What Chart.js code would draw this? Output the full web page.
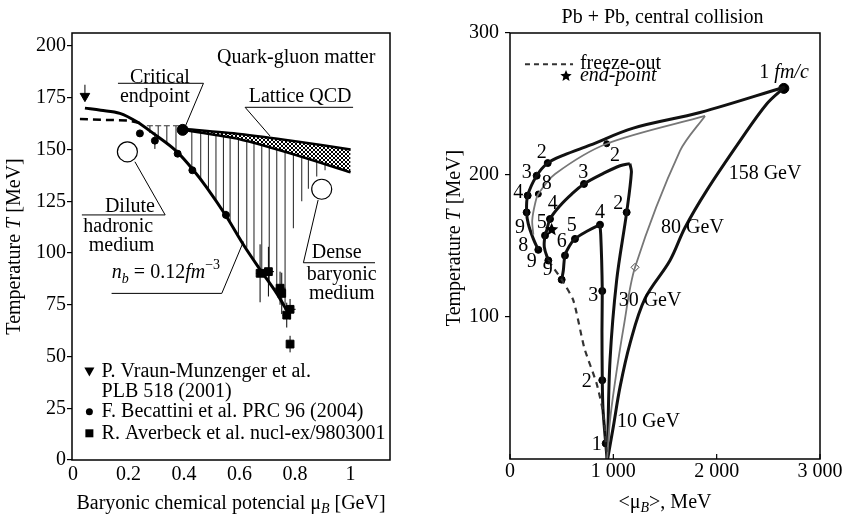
<!DOCTYPE html>
<html><head><meta charset="utf-8">
<script src="https://cdn.jsdelivr.net/npm/chart.js@4/dist/chart.umd.min.js"></script>
<style>
html,body{margin:0;padding:0;background:#fff;width:843px;height:517px;overflow:hidden}
#l{position:absolute;left:0;top:0}
#r{position:absolute;left:430px;top:0}
</style></head><body>
<canvas id="l" width="420" height="517"></canvas>
<canvas id="r" width="413" height="517"></canvas>
<script>
// ================= LEFT PANEL DATA =================
const xTicksL = [0, 0.2, 0.4, 0.6, 0.8, 1];
const xTickLabelsL = ['0', '0.2', '0.4', '0.6', '0.8', '1'];
const yTicksL = [0, 25, 50, 75, 100, 125, 150, 175, 200];
const yTickLabelsL = ['0', '25', '50', '75', '100', '125', '150', '175', '200'];
// freeze-out fit n_b = 0.12 fm^-3
const fitMu = [0.043, 0.1, 0.169, 0.23, 0.289, 0.374, 0.434, 0.48, 0.551, 0.614, 0.674, 0.734, 0.78];
const fitT  = [170, 169, 167.5, 163.4, 157.8, 149, 140, 132, 118, 104, 92, 80.5, 70];
// dashed crossover line
const dashMu = [0.025, 0.2, 0.25];
const dashT  = [164.7, 164, 162.5];
// lattice QCD band
const latticeMu = [0.395, 0.6, 0.8, 1.0];
const latticeUpperT = [160, 157.5, 154, 150];
const latticeLowerT = [159.5, 155, 147.5, 139];
// critical endpoint
const endpointMu = [0.395];
const endpointT = [159.5];
// vertical hatching of the mixed region
const hatchMu = [0.277, 0.307, 0.338, 0.371, 0.428, 0.46, 0.488, 0.515, 0.542, 0.566, 0.596, 0.626, 0.652, 0.68, 0.707, 0.734, 0.764, 0.794, 0.824, 0.848, 0.878, 0.908];
const hatchTop = [161.5, 161.5, 161.5, 161.5, 158.8, 158, 157.5, 157, 156.3, 155.7, 155, 154, 153, 152, 151, 150, 149, 147.7, 146.5, 145.5, 144.3, 143];
const hatchBottom = [158, 155, 152.5, 150, 140.5, 135, 131, 126, 120.5, 115.5, 109, 102.5, 97, 91, 86, 80.5, 75, 112, 125, 131, 137, 140];
// P. Braun-Munzinger (triangle)
const braunMu = [0.043];
const braunT = [175.8];
const braunErrUp = [5.5];
// F. Becattini (circles)
const becMu = [0.241, 0.295, 0.377, 0.43, 0.551];
const becT = [157.8, 154.3, 148, 140, 118.4];
const becErr = [0, 4, 0, 0, 2];
// R. Averbeck (squares)
const avMu = [0.674, 0.704, 0.746, 0.752, 0.77, 0.782, 0.782];
const avT = [90.2, 91, 83, 80.5, 70, 72.8, 56];
const avErrT = [14, 12, 8, 10, 6, 5, 4];
const avErrMu = [0.015, 0.02, 0.02, 0.015, 0.015, 0.02, 0.01];

// ================= RIGHT PANEL DATA =================
const xTicksR = [0, 1000, 2000, 3000];
const xTickLabelsR = ['0', '1 000', '2 000', '3 000'];
const yTicksR = [100, 200, 300];
const yTickLabelsR = ['100', '200', '300'];
// 158 GeV
const rise158Mu = [945, 1000, 1065, 1161, 1306, 1548, 1694, 1903, 2226, 2484, 2660];
const rise158T  = [0, 22.8, 50.8, 81.3, 112.9, 139.8, 163, 189, 224, 250, 262];
const ret158Mu = [2660, 1839, 1193, 774, 520, 365, 258, 171, 161, 177, 226, 274];
const ret158T  = [262, 244, 233, 221, 214, 208.4, 199.5, 185.5, 173.7, 165.6, 155, 147.3];
const dots158Mu = [365, 258, 171, 161, 274];
const dots158T  = [208.4, 199.5, 185.5, 173.7, 147.3];
const apex158Mu = [2650];
const apex158T = [261];
// 80 GeV
const rise80Mu = [940, 965, 1010, 1100, 1210, 1645, 1887];
const rise80T  = [0, 25, 51, 93, 135, 217, 241.6];
const ret80Mu = [1887, 936, 436, 274, 242, 215, 226];
const ret80T  = [241.6, 222, 200.7, 186.6, 179.6, 168, 158];
const dots80Mu = [936, 274];
const dots80T  = [222, 186.6];
const mark80Mu = [1210];
const mark80T = [135];
// 30 GeV
const rise30Mu = [940, 945, 968, 1032, 1129, 1175, 1160];
const rise30T  = [0, 11, 69.6, 125.8, 173.7, 202, 208];
const ret30Mu = [1160, 1065, 900, 716, 597, 484, 387, 355, 339, 332, 371];
const ret30T  = [208, 206.5, 201, 193.7, 186.6, 178.4, 169, 160.9, 157.4, 149.2, 139.8];
const dots30Mu = [1129, 716, 387, 339, 371];
const dots30T  = [173.7, 193.7, 169, 157.4, 139.8];
// 10 GeV
const rise10Mu = [940, 926, 900, 893, 890, 893, 887, 878, 871];
const rise10T  = [0, 11, 35, 55.5, 90, 118.3, 140, 158, 165];
const ret10Mu = [871, 758, 629, 575, 532, 516, 500];
const ret10T  = [165, 160.9, 155, 150, 143.3, 132.8, 126.3];
const dots10Mu = [871, 629, 532, 500, 893, 893, 926];
const dots10T  = [165, 155, 143.3, 126.3, 118.3, 55.5, 11];
// freeze-out (dashed)
const freezeMu = [371, 500, 613, 720, 839, 903, 935];
const freezeT  = [139.8, 126.3, 111.7, 78, 53, 32, 5];
// end-point star
const starMu = [403];
const starT = [161.5];
// time labels (fm/c)
const timeLabelText = ['2', '3', '4', '9', '8', '9', '8', '4', '5', '9', '3', '2', '2', '4', '5', '6', '3', '2', '1'];
const timeLabelMu = [307, 161, 80, 97, 129, 210, 355, 413, 307, 365, 709, 1016, 1048, 871, 597, 500, 806, 742, 839];
const timeLabelT  = [216, 201.8, 187.8, 163.2, 150.4, 138.6, 193.7, 179.6, 166.7, 133, 201.8, 213.5, 179.6, 173.7, 164.4, 152.7, 115.2, 54.4, 9.9];

// ================= helpers =================
const serif = '"Liberation Serif", "Times New Roman", serif';
const FS = 20, SS = 14;
Chart.defaults.font.family = serif;
Chart.defaults.font.size = FS;
Chart.defaults.color = '#000';

const pts = (xs, ys) => xs.map((x, i) => ({x: x, y: ys[i]}));

function rich(ctx, parts, x, y, align, rot) {
  ctx.save();
  ctx.translate(x, y);
  if (rot) ctx.rotate(rot);
  ctx.textBaseline = 'middle';
  ctx.textAlign = 'left';
  ctx.fillStyle = '#000';
  const f = p => (p.i ? 'italic ' : '') + (p.s ? SS : FS) + 'px ' + serif;
  let tot = 0;
  const ws = parts.map(p => { ctx.font = f(p); const w = ctx.measureText(p.t).width; tot += w; return w; });
  let cx = align === 'center' ? -tot / 2 : (align === 'right' ? -tot : 0);
  parts.forEach((p, k) => { ctx.font = f(p); ctx.fillText(p.t, cx, p.dy || 0); cx += ws[k]; });
  ctx.restore();
}
function txt(ctx, s, x, y, align, italic) { rich(ctx, [{t: s, i: italic}], x, y, align || 'center'); }

function fixedTicks(vals, labels) {
  return {
    afterBuildTicks: s => { s.ticks = vals.map(v => ({value: v})); },
    callback: v => { const k = vals.indexOf(v); return k >= 0 ? labels[k] : ''; }
  };
}
function poly(ctx, P, arr, w) {
  ctx.beginPath();
  arr.forEach((p, i) => { const q = P(p[0], p[1]); if (i) ctx.lineTo(q[0], q[1]); else ctx.moveTo(q[0], q[1]); });
  ctx.lineWidth = w || 1; ctx.strokeStyle = '#000'; ctx.stroke();
}
function openCircle(ctx, q, r) {
  ctx.beginPath(); ctx.arc(q[0], q[1], r, 0, Math.PI * 2);
  ctx.fillStyle = '#fff'; ctx.fill(); ctx.lineWidth = 1.2; ctx.strokeStyle = '#000'; ctx.stroke();
}
function star(ctx, x, y, r) {
  ctx.beginPath();
  for (let k = 0; k < 10; k++) {
    const a = -Math.PI / 2 + k * Math.PI / 5, rr = k % 2 ? r * 0.45 : r;
    const px = x + rr * Math.cos(a), py = y + rr * Math.sin(a);
    if (k) ctx.lineTo(px, py); else ctx.moveTo(px, py);
  }
  ctx.closePath(); ctx.fillStyle = '#000'; ctx.fill();
}
function makePattern() {
  const c = document.createElement('canvas'); c.width = 4; c.height = 4;
  const g = c.getContext('2d');
  g.fillStyle = '#fff'; g.fillRect(0, 0, 4, 4);
  g.strokeStyle = '#000'; g.lineWidth = 1;
  g.beginPath(); g.moveTo(0, 0); g.lineTo(4, 4); g.moveTo(4, 0); g.lineTo(0, 4); g.stroke();
  return g.createPattern(c, 'repeat');
}

// ================= LEFT CHART =================
const leftPlugin = {
  id: 'leftDeco',
  beforeDatasetsDraw(chart) {
    const ctx = chart.ctx, sx = chart.scales.x, sy = chart.scales.y;
    ctx.save();
    ctx.strokeStyle = '#333'; ctx.lineWidth = 1.1;
    hatchMu.forEach((m, i) => {
      const x = sx.getPixelForValue(m);
      ctx.beginPath();
      ctx.moveTo(x, sy.getPixelForValue(hatchTop[i]));
      ctx.lineTo(x, sy.getPixelForValue(hatchBottom[i]));
      if (hatchTop[i] > 161) {
        const yt = sy.getPixelForValue(hatchTop[i]);
        ctx.moveTo(x - 3, yt); ctx.lineTo(x + 3, yt);
      }
      ctx.stroke();
    });
    ctx.restore();
  },
  afterDatasetsDraw(chart) {
    const ctx = chart.ctx, sx = chart.scales.x, sy = chart.scales.y, ca = chart.chartArea;
    const P = (x, y) => [sx.getPixelForValue(x), sy.getPixelForValue(y)];
    ctx.save();
    // error bars
    ctx.strokeStyle = '#000'; ctx.lineWidth = 1;
    avMu.forEach((m, i) => {
      const c = P(m, avT[i]), a = P(m, avT[i] + avErrT[i]), b = P(m, avT[i] - avErrT[i]);
      const l = P(m - avErrMu[i], avT[i]), r = P(m + avErrMu[i], avT[i]);
      ctx.beginPath(); ctx.moveTo(a[0], a[1]); ctx.lineTo(b[0], b[1]);
      ctx.moveTo(l[0], c[1]); ctx.lineTo(r[0], c[1]); ctx.stroke();
    });
    becMu.forEach((m, i) => {
      if (!becErr[i]) return;
      const a = P(m, becT[i] + becErr[i]), b = P(m, becT[i] - becErr[i]);
      ctx.beginPath(); ctx.moveTo(a[0], a[1]); ctx.lineTo(b[0], b[1]); ctx.stroke();
    });
    braunMu.forEach((m, i) => {
      const a = P(m, braunT[i]), b = P(m, braunT[i] + braunErrUp[i]);
      ctx.beginPath(); ctx.moveTo(a[0], a[1]); ctx.lineTo(b[0], b[1]); ctx.stroke();
    });
    // leader lines / underlines
    poly(ctx, P, [[0.162, 182], [0.47, 182], [0.404, 161]], 1);
    poly(ctx, P, [[1.009, 170.4], [0.62, 170.4], [0.71, 156.5]], 1);
    poly(ctx, P, [[0.032, 118.4], [0.332, 118.4], [0.223, 144.1]], 1);
    poly(ctx, P, [[1.088, 95.3], [0.83, 95.3], [0.883, 125.6]], 1);
    poly(ctx, P, [[0.139, 80.5], [0.536, 80.5], [0.614, 105.5]], 1);
    openCircle(ctx, P(0.196, 148.9), 10);
    openCircle(ctx, P(0.896, 130.8), 10);
    // texts
    let q;
    q = P(0.804, 194.2); txt(ctx, 'Quark-gluon matter', q[0], q[1]);
    q = P(0.313, 184.9); txt(ctx, 'Critical', q[0], q[1]);
    q = P(0.295, 175.5); txt(ctx, 'endpoint', q[0], q[1]);
    q = P(0.818, 175.5); txt(ctx, 'Lattice QCD', q[0], q[1]);
    q = P(0.205, 122.4); txt(ctx, 'Dilute', q[0], q[1]);
    q = P(0.163, 112.7); txt(ctx, 'hadronic', q[0], q[1]);
    q = P(0.175, 103.5); txt(ctx, 'medium', q[0], q[1]);
    q = P(0.95, 99.9); txt(ctx, 'Dense', q[0], q[1]);
    q = P(0.968, 89.7); txt(ctx, 'baryonic', q[0], q[1]);
    q = P(0.968, 80.5); txt(ctx, 'medium', q[0], q[1]);
    q = P(0.14, 90.3);
    rich(ctx, [{t: 'n', i: 1}, {t: 'b', i: 1, s: 1, dy: 6}, {t: ' = 0.12'}, {t: 'fm', i: 1}, {t: '\u22123', s: 1, dy: -8}], q[0], q[1], 'left');
    // legend
    const lx = 0.059, tx = 0.103;
    q = P(lx, 42.7);
    ctx.beginPath(); ctx.moveTo(q[0] - 5, q[1] - 4); ctx.lineTo(q[0] + 5, q[1] - 4); ctx.lineTo(q[0], q[1] + 5); ctx.closePath(); ctx.fillStyle = '#000'; ctx.fill();
    q = P(tx, 42.7); txt(ctx, 'P. Vraun-Munzenger et al.', q[0], q[1], 'left');
    q = P(tx, 33); txt(ctx, 'PLB 518 (2001)', q[0], q[1], 'left');
    q = P(lx, 23.3); ctx.beginPath(); ctx.arc(q[0], q[1], 3.5, 0, Math.PI * 2); ctx.fill();
    q = P(tx, 23.3); txt(ctx, 'F. Becattini et al. PRC 96 (2004)', q[0], q[1], 'left');
    q = P(lx, 12.9); ctx.fillRect(q[0] - 4, q[1] - 4, 8, 8);
    q = P(tx, 12.9); txt(ctx, 'R. Averbeck et al. nucl-ex/9803001', q[0], q[1], 'left');
    // frame
    ctx.lineWidth = 1.5; ctx.strokeStyle = '#000';
    ctx.strokeRect(ca.left, ca.top, ca.right - ca.left, ca.bottom - ca.top);
    // axis titles
    rich(ctx, [{t: 'Temperature '}, {t: 'T', i: 1}, {t: ' [MeV]'}], 15, (ca.top + ca.bottom) / 2, 'center', -Math.PI / 2);
    rich(ctx, [{t: 'Baryonic chemical potencial \u03bc'}, {t: 'B', i: 1, s: 1, dy: 5}, {t: ' [GeV]'}], (ca.left + ca.right) / 2, 504, 'center');
    ctx.restore();
  }
};

const tl = fixedTicks(xTicksL, xTickLabelsL), tly = fixedTicks(yTicksL, yTickLabelsL);
new Chart(document.getElementById('l'), {
  type: 'line',
  data: {
    datasets: [
      {data: pts(latticeMu, latticeUpperT), borderColor: '#000', borderWidth: 2.5, pointRadius: 0, tension: 0.2, fill: false},
      {data: pts(latticeMu, latticeLowerT), borderColor: '#000', borderWidth: 2.5, pointRadius: 0, tension: 0.2, fill: '-1', backgroundColor: makePattern()},
      {data: pts(dashMu, dashT), borderColor: '#000', borderWidth: 2.5, borderDash: [8, 5], pointRadius: 0, fill: false},
      {data: pts(fitMu, fitT), borderColor: '#000', borderWidth: 3, pointRadius: 0, cubicInterpolationMode: 'monotone', fill: false},
      {data: pts(becMu, becT), showLine: false, pointStyle: 'circle', pointRadius: 3.5, backgroundColor: '#000', borderColor: '#000'},
      {data: pts(braunMu, braunT), showLine: false, pointStyle: 'triangle', pointRotation: 180, pointRadius: 5.5, backgroundColor: '#000', borderColor: '#000'},
      {data: pts(avMu, avT), showLine: false, pointStyle: 'rect', pointRadius: 5.5, backgroundColor: '#000', borderColor: '#000'},
      {data: pts(endpointMu, endpointT), showLine: false, pointStyle: 'circle', pointRadius: 5.5, backgroundColor: '#000', borderColor: '#000'}
    ]
  },
  options: {
    responsive: false, animation: false, devicePixelRatio: 1,
    layout: {padding: {top: 33, right: 30, left: 0, bottom: 0}},
    plugins: {legend: {display: false}, tooltip: {enabled: false}, title: {display: false}},
    scales: {
      x: {type: 'linear', min: -0.0036, max: 1.142, afterBuildTicks: tl.afterBuildTicks,
          afterFit: s => { s.height = 57; },
          grid: {display: false}, border: {display: false},
          ticks: {callback: tl.callback, autoSkip: false, maxRotation: 0, padding: -5}},
      y: {type: 'linear', min: 0, max: 206.3, afterBuildTicks: tly.afterBuildTicks,
          afterFit: s => { s.width = 72; },
          grid: {display: true, drawOnChartArea: false, drawTicks: true, tickLength: 5, color: '#000', lineWidth: 1.2},
          border: {display: false},
          ticks: {callback: tly.callback, autoSkip: false, padding: 1}}
    }
  },
  plugins: [leftPlugin]
});

// ================= RIGHT CHART =================
const rightPlugin = {
  id: 'rightDeco',
  afterDatasetsDraw(chart) {
    const ctx = chart.ctx, sx = chart.scales.x, sy = chart.scales.y, ca = chart.chartArea;
    const P = (x, y) => [sx.getPixelForValue(x), sy.getPixelForValue(y)];
    ctx.save();
    // star
    starMu.forEach((m, i) => { const q = P(m, starT[i]); star(ctx, q[0], q[1], 7); });
    // time labels
    timeLabelText.forEach((s, i) => { const q = P(timeLabelMu[i], timeLabelT[i]); txt(ctx, s, q[0], q[1]); });
    let q;
    q = P(2652, 272); rich(ctx, [{t: '1 '}, {t: 'fm/c', i: 1}], q[0], q[1], 'center');
    q = P(2468, 200.7); txt(ctx, '158 GeV', q[0], q[1]);
    q = P(1766, 163.2); txt(ctx, '80 GeV', q[0], q[1]);
    q = P(1355, 111.7); txt(ctx, '30 GeV', q[0], q[1]);
    q = P(1340, 26.3); txt(ctx, '10 GeV', q[0], q[1]);
    // legend
    const a = P(145, 278), b = P(610, 278);
    ctx.beginPath(); ctx.setLineDash([5, 4]); ctx.moveTo(a[0], a[1]); ctx.lineTo(b[0], b[1]);
    ctx.lineWidth = 2; ctx.strokeStyle = '#333'; ctx.stroke(); ctx.setLineDash([]);
    q = P(677, 278); txt(ctx, 'freeze-out', q[0], q[1], 'left');
    q = P(542, 269.7); star(ctx, q[0], q[1], 6);
    q = P(677, 269.7); txt(ctx, 'end-point', q[0], q[1], 'left', true);
    // inner x ticks
    ctx.strokeStyle = '#000'; ctx.lineWidth = 1.2;
    xTicksR.forEach(v => {
      const x = sx.getPixelForValue(v);
      ctx.beginPath(); ctx.moveTo(x, ca.bottom); ctx.lineTo(x, ca.bottom - 5); ctx.stroke();
    });
    // frame
    ctx.lineWidth = 1.5;
    ctx.strokeRect(ca.left, ca.top, ca.right - ca.left, ca.bottom - ca.top);
    // titles
    txt(ctx, 'Pb + Pb, central collision', 232.5, 18);
    rich(ctx, [{t: 'Temperature '}, {t: 'T', i: 1}, {t: ' [MeV]'}], 25, 238, 'center', -Math.PI / 2);
    rich(ctx, [{t: '<\u03bc'}, {t: 'B', i: 1, s: 1, dy: 5}, {t: '>, MeV'}], (ca.left + ca.right) / 2, 503, 'center');
    ctx.restore();
  }
};

const thick = {borderColor: '#111', borderWidth: 3, pointRadius: 0, tension: 0.35, fill: false};
const thin = {borderColor: '#777', borderWidth: 1.8, pointRadius: 0, tension: 0.3, fill: false};
const dotStyle = {showLine: false, pointStyle: 'circle', pointRadius: 3.5, backgroundColor: '#000', borderColor: '#000'};
const trx = fixedTicks(xTicksR, xTickLabelsR), tryy = fixedTicks(yTicksR, yTickLabelsR);
new Chart(document.getElementById('r'), {
  type: 'line',
  data: {
    datasets: [
      Object.assign({data: pts(freezeMu, freezeT), borderDash: [6, 5]}, thick, {borderWidth: 2.2, borderColor: '#333', tension: 0.2}),
      Object.assign({data: pts(rise80Mu, rise80T)}, thin),
      Object.assign({data: pts(ret80Mu, ret80T)}, thin),
      Object.assign({data: pts(rise158Mu, rise158T)}, thick),
      Object.assign({data: pts(ret158Mu, ret158T)}, thick),
      Object.assign({data: pts(rise30Mu, rise30T)}, thick),
      Object.assign({data: pts(ret30Mu, ret30T)}, thick),
      Object.assign({data: pts(rise10Mu, rise10T)}, thick, {tension: 0.2}),
      Object.assign({data: pts(ret10Mu, ret10T)}, thick),
      Object.assign({data: pts(dots158Mu, dots158T)}, dotStyle),
      Object.assign({data: pts(dots80Mu, dots80T)}, dotStyle, {pointRadius: 3}),
      Object.assign({data: pts(dots30Mu, dots30T)}, dotStyle),
      Object.assign({data: pts(dots10Mu, dots10T)}, dotStyle),
      Object.assign({data: pts(apex158Mu, apex158T)}, dotStyle, {pointRadius: 5}),
      {data: pts(mark80Mu, mark80T), showLine: false, pointStyle: 'rectRot', pointRadius: 4, backgroundColor: '#fff', borderColor: '#444', borderWidth: 1}
    ]
  },
  options: {
    responsive: false, animation: false, devicePixelRatio: 1,
    layout: {padding: {top: 33, right: 23, left: 0, bottom: 0}},
    plugins: {legend: {display: false}, tooltip: {enabled: false}, title: {display: false}},
    scales: {
      x: {type: 'linear', min: 0, max: 3000, afterBuildTicks: trx.afterBuildTicks,
          afterFit: s => { s.height = 58; },
          grid: {display: false}, border: {display: false},
          ticks: {callback: trx.callback, autoSkip: false, maxRotation: 0, padding: -7}},
      y: {type: 'linear', min: 0, max: 300, afterBuildTicks: tryy.afterBuildTicks,
          afterFit: s => { s.width = 80; },
          grid: {display: true, drawOnChartArea: false, drawTicks: true, tickLength: 5, color: '#000', lineWidth: 1.2},
          border: {display: false},
          ticks: {callback: tryy.callback, autoSkip: false, padding: 6}}
    }
  },
  plugins: [rightPlugin]
});
</script>
</body></html>
